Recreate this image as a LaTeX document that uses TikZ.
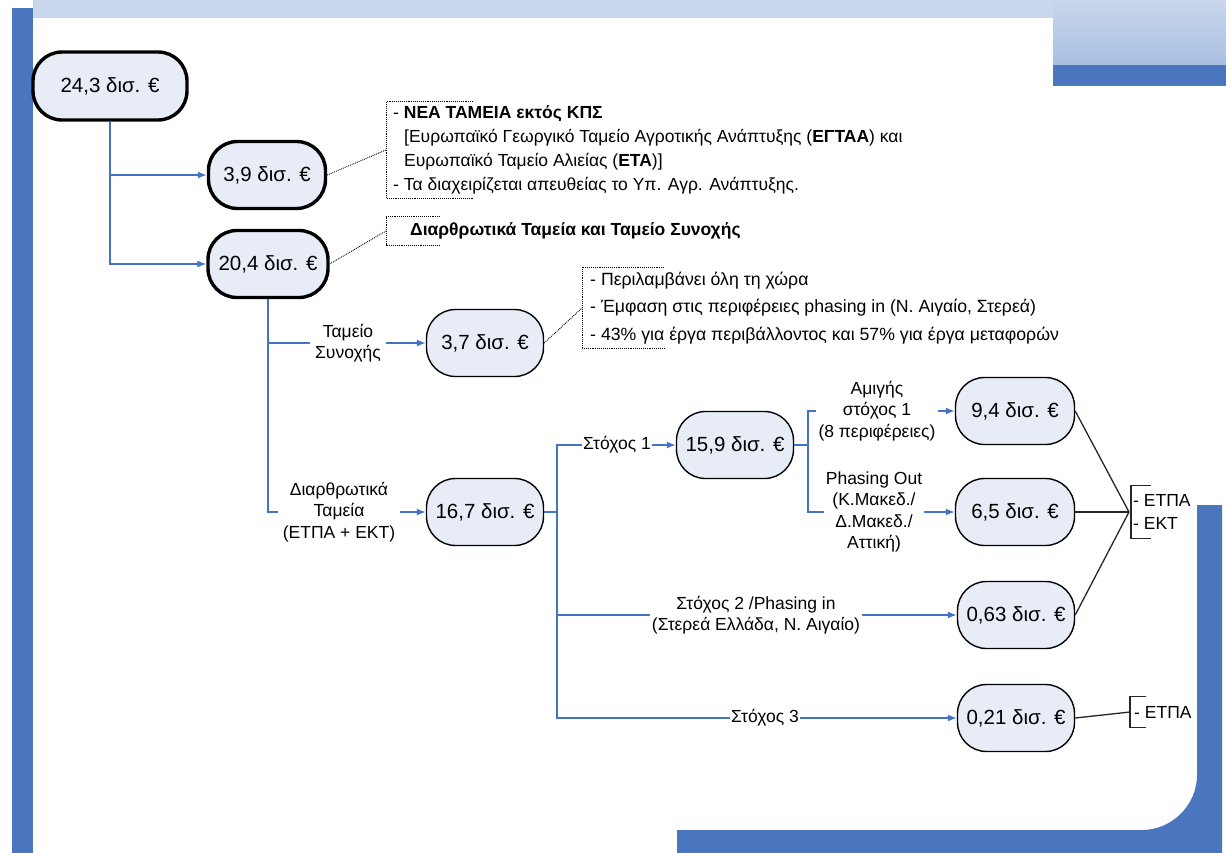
\documentclass[tikz,border=0pt]{standalone}
\usepackage{fontspec}
\setmainfont{Liberation Sans}
\usepackage{tikz}
\usetikzlibrary{arrows.meta}

\definecolor{barblue}{HTML}{4A76BE}
\definecolor{lineblue}{HTML}{4472C4}
\definecolor{paleblue}{HTML}{C9D6EC}
\definecolor{midblue}{HTML}{A9BFE2}
\definecolor{boxfill}{HTML}{E7ECF7}

\begin{document}
\begin{tikzpicture}[x=1pt, y=-1pt,
		sum/.style={draw, fill=boxfill, rounded corners=29pt, minimum width=117pt, minimum height=67pt, line width=1.4pt, inner sep=0pt, font=\fontsize{20.5}{24}\selectfont},
		bigsum/.style={sum, line width=3.4pt},
		lbl/.style={align=center, inner ysep=0pt, inner xsep=2pt, font=\fontsize{17.5}{21.5}\selectfont},
		note/.style={anchor=west, align=left, inner ysep=0pt, inner xsep=7pt, font=\fontsize{17.5}{24}\selectfont},
		flow/.style={lineblue, line width=1.4pt},
		dotline/.style={densely dotted, line width=0.9pt},
		>={Latex[length=9pt,width=7pt]}]
	\useasboundingbox (0,0) rectangle (1226,853);

	% page frame
	\fill[paleblue] (33,0) rectangle (1053,18);
	\shade[top color=paleblue, bottom color=midblue] (1053,0) rectangle (1226,65);
	\fill[barblue] (1053,65) rectangle (1226,86);
	\fill[barblue] (12,8) rectangle (33,853);
	\fill[barblue] (677,853) -- (677,830) -- (1142,830) .. controls (1172,830) and (1197,805) .. (1197,775) -- (1197,505) -- (1222,505) -- (1222,853) -- cycle;

	% amounts
	\node[bigsum, minimum width=154pt, minimum height=68pt] (A) at (110,86) {24,3 δισ. €};
	\node[bigsum] (B) at (267,175) {3,9 δισ. €};
	\node[bigsum, minimum width=120pt] (C) at (268,264) {20,4 δισ. €};
	\node[sum] (D) at (485,343) {3,7 δισ. €};
	\node[sum] (E) at (485,512) {16,7 δισ. €};
	\node[sum] (F) at (735,445) {15,9 δισ. €};
	\node[sum, minimum width=119pt] (G) at (1015,411) {9,4 δισ. €};
	\node[sum, minimum width=119pt] (H) at (1015,512) {6,5 δισ. €};
	\node[sum] (I) at (1016,615) {0,63 δισ. €};
	\node[sum] (J) at (1016,718) {0,21 δισ. €};

	% branch labels
	\node[lbl, inner xsep=5pt] (l1) at (348,343) {Ταμείο\\Συνοχής};
	\node[lbl, inner xsep=5pt] (l2) at (339,512) {Διαρθρωτικά\\Ταμεία\\(ΕΤΠΑ + ΕΚΤ)};
	\node[lbl, inner xsep=1pt] (s1) at (617,445) {Στόχος 1};
	\node[lbl] (s2) at (756,615) {Στόχος 2 /Phasing in\\(Στερεά Ελλάδα, Ν. Αιγαίο)};
	\node[lbl, inner xsep=1pt] (s3) at (765,718) {Στόχος 3};
	\node[lbl] (a1) at (877,411) {Αμιγής\\στόχος 1\\(8 περιφέρειες)};
	\node[lbl] (a2) at (874,512) {Phasing Out\\(Κ.Μακεδ./\\Δ.Μακεδ./\\Αττική)};

	\coordinate (e1) at (557,512);
	\coordinate (f1) at (808,445);
	\coordinate (m1) at (1129,512);

	% blue flow lines
	\draw[flow, ->] (A.south) |- (B);
	\draw[flow, ->] (A.south) |- (C);
	\draw[flow] (C.south) |- (l1);
	\draw[flow, ->] (l1) -- (D);
	\draw[flow] (C.south) |- (l2);
	\draw[flow, ->] (l2) -- (E);
	\draw[flow] (E) -- (e1);
	\draw[flow] (e1) |- (s1);
	\draw[flow, ->] (s1) -- (F);
	\draw[flow] (e1) |- (s2);
	\draw[flow, ->] (s2) -- (I);
	\draw[flow] (e1) |- (s3);
	\draw[flow, ->] (s3) -- (J);
	\draw[flow] (F) -- (f1);
	\draw[flow] (f1) |- (a1);
	\draw[flow, ->] (a1) -- (G);
	\draw[flow] (f1) |- (a2);
	\draw[flow, ->] (a2) -- (H);

	% notes
	\node[note, minimum height=96pt] (K1) at (386,150) {- \textbf{ΝΕΑ ΤΑΜΕΙΑ εκτός ΚΠΣ}\\
		\hspace*{11pt}[Ευρωπαϊκό Γεωργικό Ταμείο Αγροτικής Ανάπτυξης (\textbf{ΕΓΤΑΑ}) και\\
		\hspace*{11pt}Ευρωπαϊκό Ταμείο Αλιείας (\textbf{ΕΤΑ})]\\
		- Τα διαχειρίζεται απευθείας το Υπ. Αγρ. Ανάπτυξης.};
	\node[note, minimum height=28pt, inner xsep=24pt] (K2) at (386,231) {\textbf{Διαρθρωτικά Ταμεία και Ταμείο Συνοχής}};
	\node[note, minimum height=81pt, inner xsep=8pt, font=\fontsize{17.7}{27.5}\selectfont] (K3) at (582,308) {- Περιλαμβάνει όλη τη χώρα\\
		- Έμφαση στις περιφέρειες phasing in (Ν. Αιγαίο, Στερεά)\\
		- 43\% για έργα περιβάλλοντος και 57\% για έργα μεταφορών};

	\draw[dotline] ([xshift=87pt]K1.north west) -- (K1.north west) -- (K1.south west) -- ([xshift=87pt]K1.south west);
	\draw[dotline] ([xshift=54pt]K2.north west) -- (K2.north west) -- (K2.south west) -- ([xshift=54pt]K2.south west);
	\draw[dotline] ([xshift=82pt]K3.north west) -- (K3.north west) -- (K3.south west) -- ([xshift=82pt]K3.south west);
	\draw[dotline] (B.east) -- (K1.west);
	\draw[dotline] (C.east) -- (K2.west);
	\draw[dotline] (D.east) -- (K3.west);

	% fund lists
	\node[note, minimum height=52pt, inner xsep=2pt, font=\fontsize{17.5}{23}\selectfont] (P1) at (1131,512) {- ΕΤΠΑ\\- ΕΚΤ};
	\node[note, minimum height=30pt, inner xsep=4pt, font=\fontsize{17.5}{23}\selectfont] (P2) at (1130,712) {- ΕΤΠΑ};
	\draw[line width=1.3pt, black!85] ([xshift=20pt]P1.north west) -- (P1.north west) -- (P1.south west) -- ([xshift=20pt]P1.south west);
	\draw[line width=1.3pt, black!85] ([xshift=16pt]P2.north west) -- (P2.north west) -- (P2.south west) -- ([xshift=16pt]P2.south west);
	\draw[line width=1.3pt, black!85] (G.east) -- (m1);
	\draw[line width=1.3pt, black!85] (H.east) -- (m1);
	\draw[line width=1.3pt, black!85] (I.east) -- (m1);
	\draw[line width=1.3pt, black!85] (J.east) -- (P2.west);
\end{tikzpicture}
\end{document}
